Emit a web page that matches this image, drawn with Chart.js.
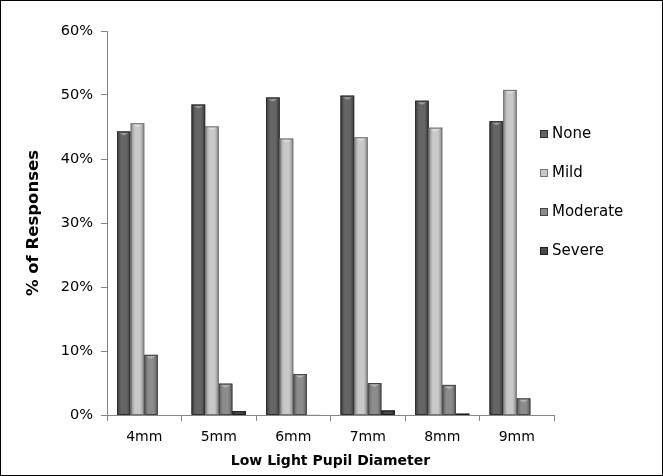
<!DOCTYPE html>
<html>
<head>
<meta charset="utf-8">
<script src="https://cdn.jsdelivr.net/npm/chart.js@4.4.1/dist/chart.umd.min.js"></script>
<style>
  body { margin: 0; background: #fff; }
  #wrap { width: 661px; height: 474px; border: 1px solid #000; }
</style>
</head>
<body>
<div id="wrap"><canvas id="myChart" width="661" height="474"></canvas></div>
<script>
// values, in percent
let diameters = ['4mm', '5mm', '6mm', '7mm', '8mm', '9mm'];
let none = [44.3, 48.5, 49.6, 49.9, 49.1, 45.9];
let mild = [45.6, 45.1, 43.2, 43.4, 44.9, 50.8];
let moderate = [9.4, 4.9, 6.4, 5.0, 4.7, 2.6];
let severe = [0, 0.6, 0.1, 0.7, 0.2, 0];
let seriesNames = ['None', 'Mild', 'Moderate', 'Severe'];
let yTicks = [0, 10, 20, 30, 40, 50, 60];

// [edge, middle, border] per series
let shades = [
  ['#3a3a3a', '#656565', '#2e2e2e'],
  ['#888888', '#c8c8c8', '#767676'],
  ['#5a5a5a', '#8c8c8c', '#474747'],
  ['#2a2a2a', '#4a4a4a', '#1e1e1e']
];

// paints the bevel look over the bars the library has placed
const barShade = {
  id: 'barShade',
  afterDatasetsDraw(chart) {
    const ctx = chart.ctx;
    chart.data.datasets.forEach((ds, di) => {
      const meta = chart.getDatasetMeta(di);
      const s = shades[di];
      meta.data.forEach(bar => {
        const h = bar.base - bar.y;
        if (h < 0.5) return;
        const left = bar.x - bar.width / 2;
        const g = ctx.createLinearGradient(left, 0, left + bar.width, 0);
        g.addColorStop(0, s[0]);
        g.addColorStop(0.3, s[1]);
        g.addColorStop(0.7, s[1]);
        g.addColorStop(1, s[0]);
        ctx.save();
        ctx.fillStyle = g;
        ctx.fillRect(left, bar.y, bar.width, h);
        ctx.strokeStyle = s[2];
        ctx.lineWidth = 1;
        ctx.strokeRect(left + 0.5, bar.y + 0.5, bar.width - 1, h - 0.5);
        if (h > 4) {
          ctx.fillStyle = 'rgba(255,255,255,0.35)';
          ctx.beginPath();
          ctx.moveTo(left + 2, bar.y + 1.5);
          ctx.lineTo(left + bar.width - 2, bar.y + 1.5);
          ctx.lineTo(bar.x, bar.y + 4);
          ctx.closePath();
          ctx.fill();
        }
        ctx.restore();
      });
    });
  }
};

// legend on the right, same look as the source
const sideLegend = {
  id: 'sideLegend',
  afterDraw(chart) {
    const ctx = chart.ctx;
    const x = chart.chartArea.right - 14;
    let y = 133;
    ctx.save();
    ctx.font = '15px "DejaVu Sans", sans-serif';
    ctx.textBaseline = 'middle';
    chart.data.datasets.forEach((ds, di) => {
      const s = shades[di];
      ctx.fillStyle = s[1];
      ctx.fillRect(x, y - 4, 8, 8);
      ctx.strokeStyle = s[2];
      ctx.strokeRect(x + 0.5, y - 3.5, 7, 7);
      ctx.fillStyle = '#000';
      ctx.fillText(ds.label, x + 12, y);
      y += 39;
    });
    ctx.restore();
  }
};

window.onload = function() {
  var ctx = document.getElementById('myChart').getContext('2d');
  Chart.defaults.font.family = '"DejaVu Sans", sans-serif';
  Chart.defaults.font.size = 14;
  Chart.defaults.color = '#000';

  var series = [none, mild, moderate, severe];
  new Chart(ctx, {
    type: 'bar',
    data: {
      labels: diameters,
      datasets: series.map((d, i) => ({
        label: seriesNames[i],
        data: d,
        backgroundColor: shades[i][1],
        borderWidth: 0,
        barPercentage: 1,
        categoryPercentage: 0.73
      }))
    },
    options: {
      responsive: false,
      animation: false,
      layout: { padding: { top: 30, right: 108, left: 0, bottom: 0 } },
      plugins: {
        legend: { display: false },
        tooltip: { enabled: false }
      },
      scales: {
        x: {
          afterFit: s => { s.height = 60; },
          grid: { offset: true, drawOnChartArea: false, tickLength: 6, color: '#868686' },
          border: { color: '#868686' },
          ticks: { padding: 8, font: { size: 14 } },
          title: { display: true, text: 'Low Light Pupil Diameter', font: { size: 14, weight: 'bold' }, padding: { top: 0, bottom: 5 } }
        },
        y: {
          min: yTicks[0],
          max: yTicks[yTicks.length - 1],
          afterFit: s => { s.width = 106; },
          afterBuildTicks: s => { s.ticks = yTicks.map(v => ({ value: v })); },
          grid: { drawOnChartArea: false, tickLength: 6, color: '#868686' },
          border: { color: '#868686' },
          ticks: { padding: 8, callback: v => v + '%', font: { size: 14.5 } },
          title: { display: true, text: '% of Responses', font: { size: 16.5, weight: 'bold' }, padding: { top: 23, bottom: 0 } }
        }
      }
    },
    plugins: [barShade, sideLegend]
  });
};
</script>
</body>
</html>
